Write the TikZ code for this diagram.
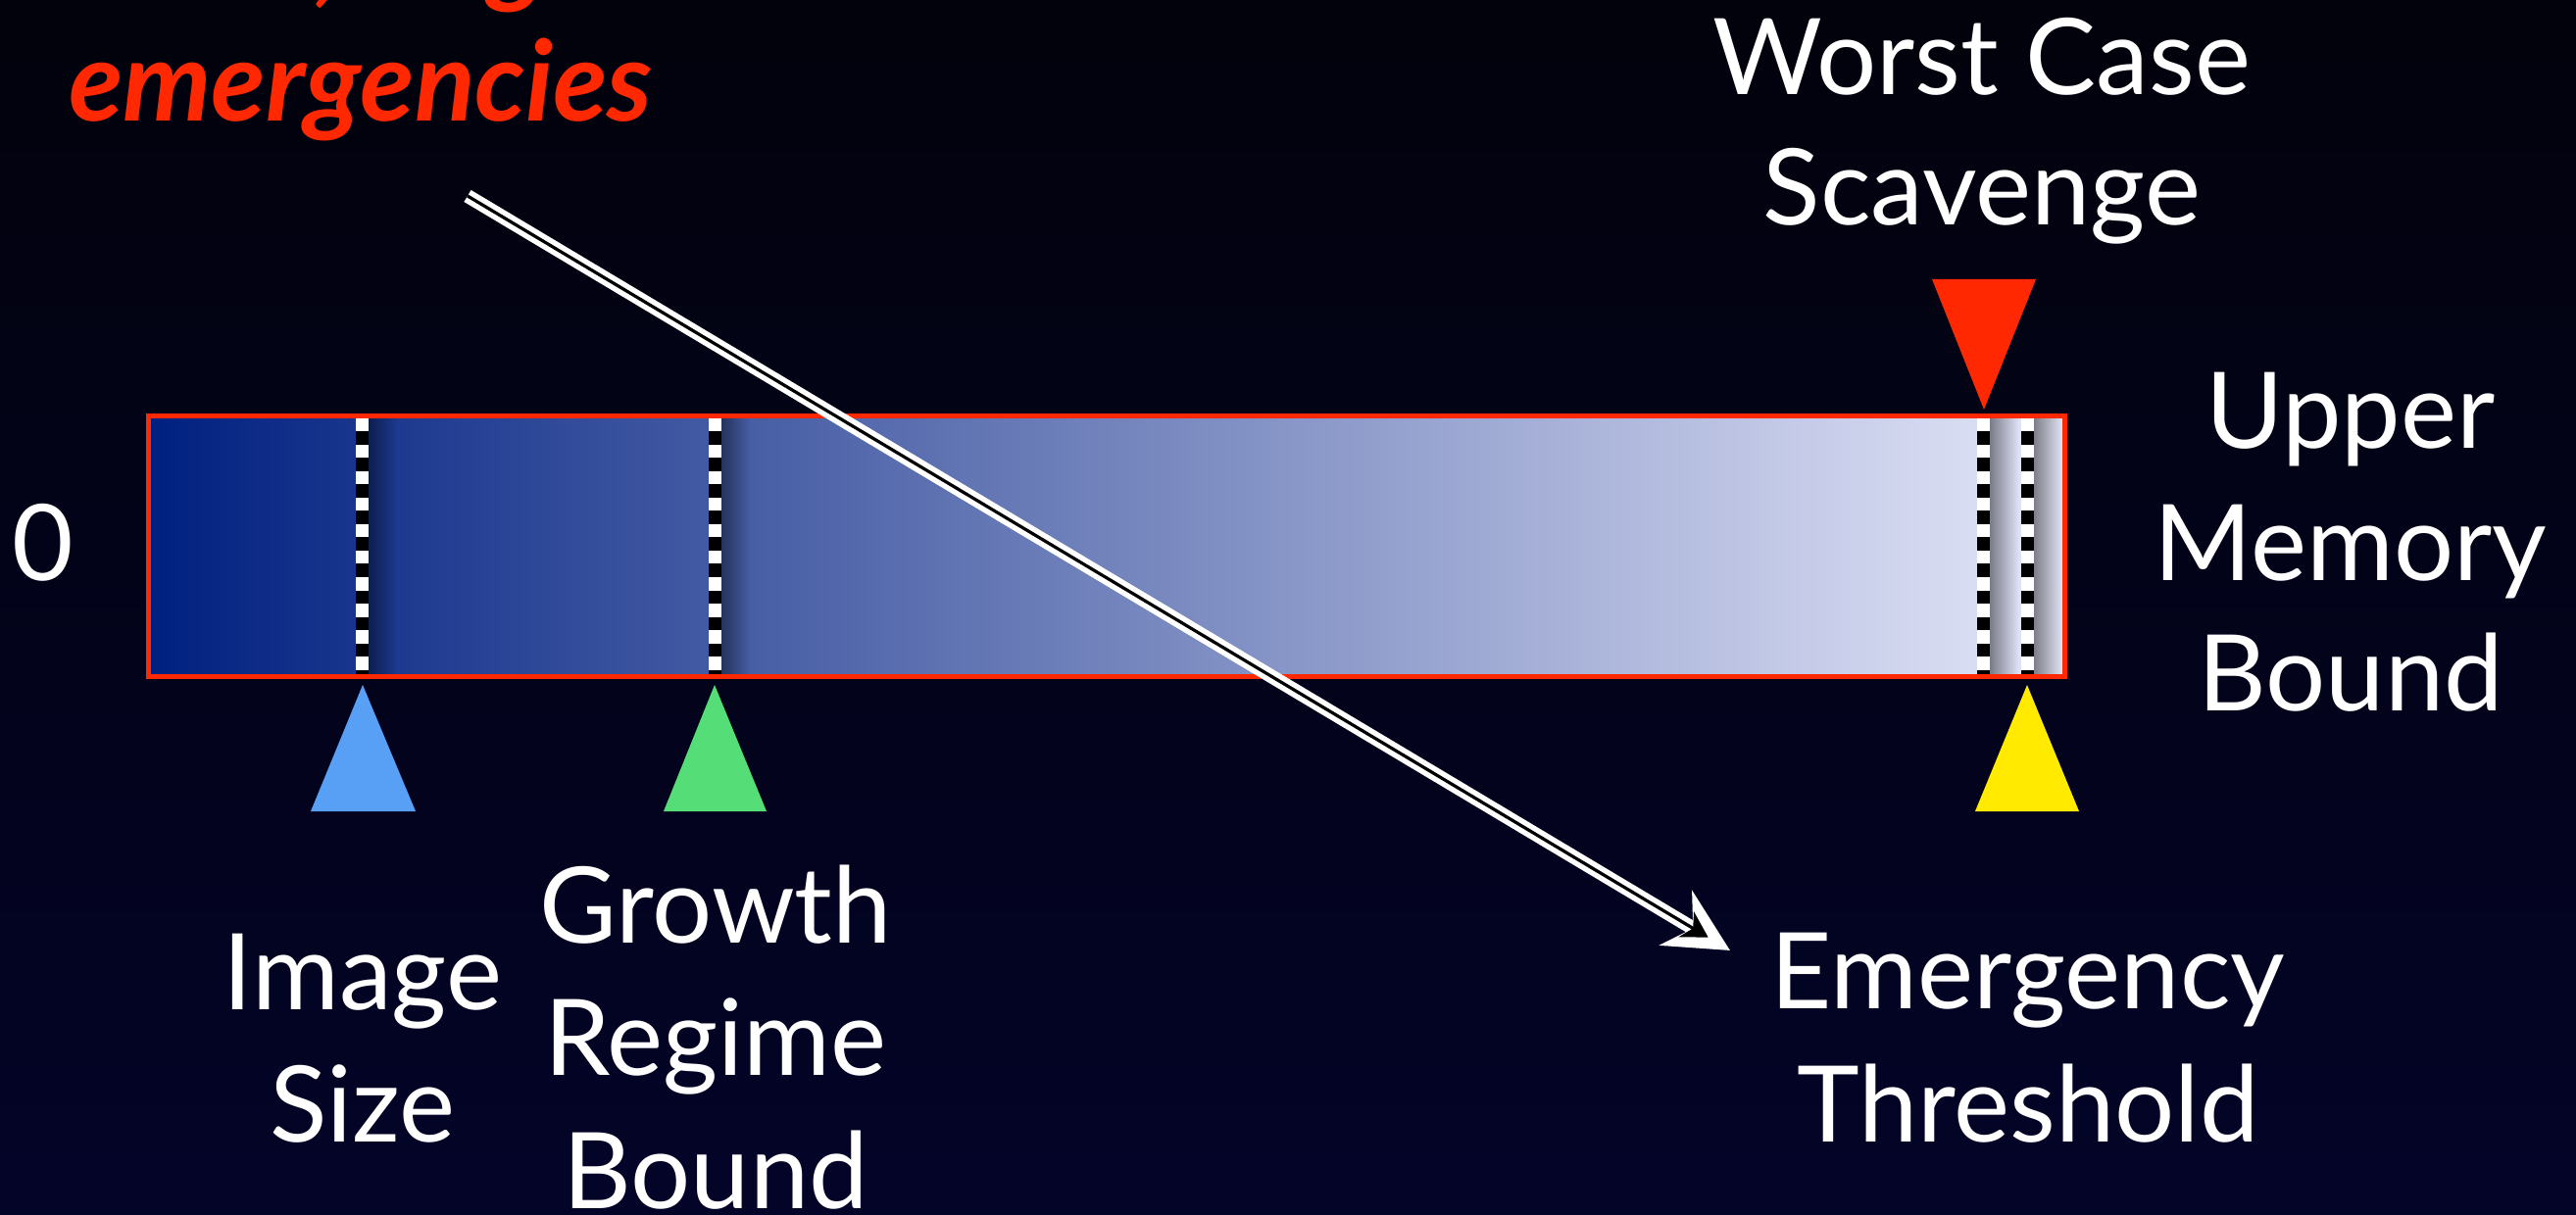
\documentclass[tikz,border=0pt]{standalone}
\usepackage{fontspec}
\setmainfont{Lato}
\usetikzlibrary{arrows.meta,fadings}
\definecolor{bgtop}{RGB}{2,2,12}
\definecolor{bgbot}{RGB}{3,4,40}
\definecolor{barred}{RGB}{255,40,0}
\definecolor{barleft}{RGB}{0,32,128}
\definecolor{barright}{RGB}{228,230,248}
\definecolor{triblue}{RGB}{88,160,245}
\definecolor{trigreen}{RGB}{85,222,120}
\definecolor{triyellow}{RGB}{255,234,0}
\tikzfading[name=shadowfade, left color=transparent!0, right color=transparent!100]
\begin{document}
\begin{tikzpicture}[x=0.5pt,y=-0.5pt,
  lbl/.style={text=white,font=\fontsize{54}{60}\selectfont,anchor=base,inner sep=0pt},
  redtxt/.style={text=barred,font=\fontsize{57}{60}\selectfont\bfseries\itshape,anchor=base,inner sep=0pt},
  marker/.style={line width=6.5pt},
  shadowbox/.style={fill=black,opacity=0.5,path fading=shadowfade}
]
\useasboundingbox (0,0) rectangle (2628,1240);
\clip (0,0) rectangle (2628,1240);
\fill[top color=bgtop,bottom color=bgbot] (0,0) rectangle (2628,1240);

% memory bar
\node (bar) [draw=barred, line width=2.7pt, left color=barleft, right color=barright,
  minimum width=977.5pt, minimum height=133pt, inner sep=0pt, outer sep=0pt] at (1129,557.5) {};

% dashed markers with shadows
\foreach \x in {369,729,2023,2068}{
  \fill[shadowbox] (\x+3,427) rectangle (\x+36,688);
  \draw[black,marker] (\x,427) -- (\x,688);
  \draw[white,marker,dash pattern=on 6.75pt off 6.75pt] (\x,427) -- (\x,688);
}

% triangles
\fill[triblue] (370,699) -- (317,828) -- (424,828) -- cycle;
\fill[trigreen] (729,699) -- (677,828) -- (782,828) -- cycle;
\fill[triyellow] (2068,699) -- (2015,828) -- (2121,828) -- cycle;
\fill[barred] (1971,285) -- (2077,285) -- (2024,418) -- cycle;

% labels
\node[lbl] (zero) at (44,593) {0};
\node[lbl] (ws1) at (2022,97) {Worst Case};
\node[lbl] (ws2) at (2022,230) {Scavenge};
\node[lbl] (um1) at (2398,458) {Upper};
\node[lbl] (um2) at (2398,592) {Memory};
\node[lbl] (um3) at (2398,725) {Bound};
\node[lbl] (is1) at (370,1030) {Image};
\node[lbl] (is2) at (370,1165) {Size};
\node[lbl] (gr1) at (730,962) {Growth};
\node[lbl] (gr2) at (730,1097) {Regime};
\node[lbl] (gr3) at (730,1233) {Bound};
\node[lbl] (et1) at (2069,1029) {Emergency};
\node[lbl] (et2) at (2069,1165) {Threshold};
\node[redtxt] (rl) at (369,-7) {rare, large};
\node[redtxt] (em) at (368,124) {emergencies};

% arrow
\coordinate (as) at (477,200);
\coordinate (ae) at (1765,970);
\draw[white,line width=7pt,-{Stealth[length=32pt,width=32pt,inset=10pt]}] (as) -- (ae);
\draw[black,line width=1.6pt,shorten >=13pt,-{Stealth[length=13pt,width=15pt,inset=4pt]}] (as) -- (ae);
\end{tikzpicture}
\end{document}
